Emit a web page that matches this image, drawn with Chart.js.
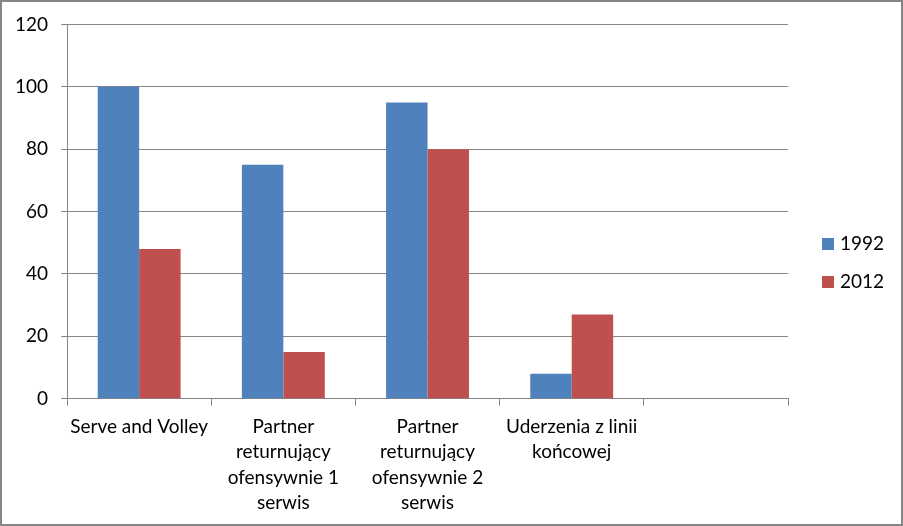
<!DOCTYPE html>
<html>
<head>
<meta charset="utf-8">
<script src="https://cdn.jsdelivr.net/npm/chart.js@4/dist/chart.umd.min.js"></script>
<style>
  html, body { margin: 0; padding: 0; background: #fff; }
  #frame {
    position: absolute; left: 0; top: 0;
    width: 903px; height: 526px;
    box-sizing: border-box;
    border: 2px solid #868686;
    background: #fff;
  }
  #chart { display: block; }
</style>
</head>
<body>
<div id="frame">
  <canvas id="chart" width="899" height="522"></canvas>
</div>
<script>
// categories (last slot is empty in the original sheet)
const categories = [
  ["Serve and Volley"],
  ["Partner", "returnujący", "ofensywnie 1", "serwis"],
  ["Partner", "returnujący", "ofensywnie 2", "serwis"],
  ["Uderzenia z linii", "końcowej"],
  [""],
];
const seriesNames = ["1992", "2012"];
const values1992 = [100, 75, 95, 8, null];
const values2012 = [48, 15, 80, 27, null];
const yTicks = [0, 20, 40, 60, 80, 100, 120];

const FONT = "Lato, 'Open Sans', sans-serif";
const FONT_SIZE = 19;
const gridColor = "#868686";

// legend on the right, drawn like the Excel one (box + label, centred vertically)
const sideLegend = {
  id: "sideLegend",
  afterDraw(chart) {
    const ctx = chart.ctx;
    const area = chart.chartArea;
    const sets = chart.data.datasets;
    const rowGap = 38;
    const x = area.right + 34;
    let y = chart.height / 2 - ((sets.length - 1) * rowGap) / 2;
    ctx.save();
    ctx.font = FONT_SIZE + "px " + FONT;
    ctx.textBaseline = "middle";
    ctx.textAlign = "left";
    sets.forEach((ds) => {
      ctx.fillStyle = ds.backgroundColor;
      ctx.fillRect(x, y - 6, 12, 12);
      ctx.fillStyle = "#000";
      ctx.fillText(ds.label, x + 18, y);
      y += rowGap;
    });
    ctx.restore();
  },
};

new Chart(document.getElementById("chart"), {
  type: "bar",
  data: {
    labels: categories,
    datasets: [
      {
        label: seriesNames[0],
        data: values1992,
        backgroundColor: "#4f81bd",
        categoryPercentage: 0.575,
        barPercentage: 1.0,
      },
      {
        label: seriesNames[1],
        data: values2012,
        backgroundColor: "#c0504d",
        categoryPercentage: 0.575,
        barPercentage: 1.0,
      },
    ],
  },
  plugins: [sideLegend],
  options: {
    responsive: false,
    animation: false,
    layout: { padding: { top: 1, right: 113, left: 0, bottom: 0 } },
    plugins: {
      tooltip: { enabled: false },
      legend: { display: false },
    },
    scales: {
      x: {
        grid: {
          offset: true,
          drawOnChartArea: false,
          drawTicks: true,
          tickLength: 7,
          color: gridColor,
        },
        border: { display: true, color: gridColor },
        ticks: {
          color: "#000",
          padding: 9,
          maxRotation: 0,
          autoSkip: false,
          font: { family: FONT, size: FONT_SIZE, lineHeight: 1.32 },
        },
      },
      y: {
        min: 0,
        max: 120,
        afterBuildTicks: (axis) => {
          axis.ticks = yTicks.map((v) => ({ value: v }));
        },
        grid: {
          color: gridColor,
          drawTicks: true,
          tickLength: 6,
        },
        border: { display: true, color: gridColor },
        ticks: {
          color: "#000",
          padding: 13,
          font: { family: FONT, size: FONT_SIZE, lineHeight: 1.0 },
        },
      },
    },
  },
});
</script>
</body>
</html>
